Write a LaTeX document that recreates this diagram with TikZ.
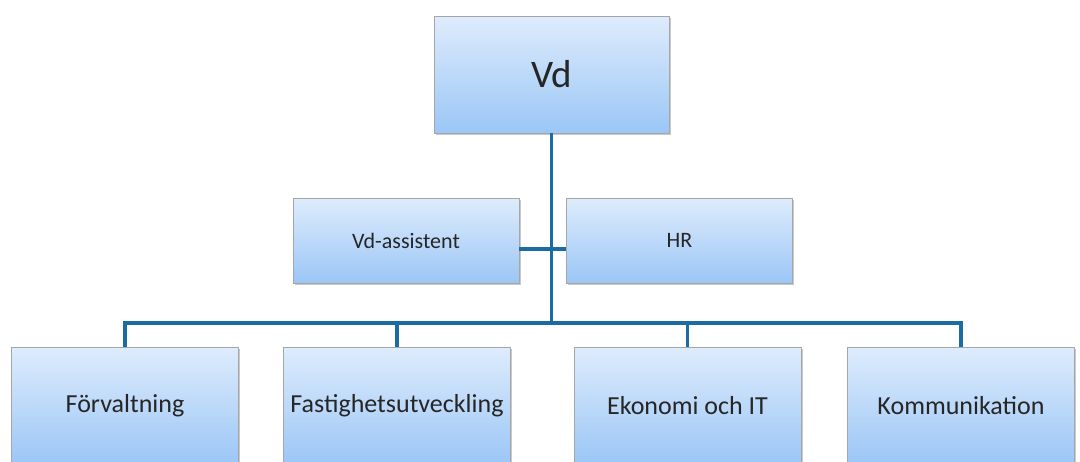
\documentclass[tikz,border=0pt]{standalone}
\usepackage{fontspec}
\setmainfont{Carlito}
\usetikzlibrary{shadows}
\definecolor{linkblue}{HTML}{1A6CA3}
\definecolor{boxtop}{HTML}{DEECFC}
\definecolor{boxbot}{HTML}{9BC6F6}
\definecolor{boxborder}{HTML}{A6A6A6}
\definecolor{txt}{HTML}{262626}
\tikzset{
  orgbox/.style={draw=boxborder, line width=0.8pt, top color=boxtop, bottom color=boxbot,
    text=txt, inner sep=0pt,
    drop shadow={shadow xshift=1.5pt, shadow yshift=-1.5pt, opacity=0.35, fill=black!60}},
  topbox/.style={orgbox, minimum width=235pt, minimum height=117pt, font=\fontsize{39}{45}\selectfont},
  midbox/.style={orgbox, minimum width=226pt, minimum height=85pt, font=\fontsize{22}{26}\selectfont},
  lowbox/.style={orgbox, minimum width=227pt, minimum height=117pt, font=\fontsize{26}{30}\selectfont},
  link/.style={draw=linkblue, line width=3.5pt},
}
\begin{document}
\begin{tikzpicture}[x=1pt,y=-1pt]
\useasboundingbox (0,0) rectangle (1080,461);
\clip (0,0) rectangle (1080,461);
\fill[white] (0,0) rectangle (1080,461);
\coordinate (midy) at (0,249);
\coordinate (busy) at (0,323);
% nodes
\node[topbox] (vd) at (551.5,74.5) {Vd};
\node[midbox] (ass) at (406,240.5) {Vd-assistent};
\node[midbox] (hr) at (679.5,240.5) {HR};
\node[lowbox] (f1) at (125,405.5) {Förvaltning};
\node[lowbox] (f2) at (397,405.5) {Fastighetsutveckling};
\node[lowbox] (f3) at (687.5,405.5) {Ekonomi och IT};
\node[lowbox] (f4) at (961,405.5) {Kommunikation};
% connectors
\draw[link] (vd.south) -- (vd.south |- busy);
\draw[link] (ass.east |- midy) -- (hr.west |- midy);
\draw[link] (f1.north) -- (f1.north |- busy) -- (f4.north |- busy) -- (f4.north);
\draw[link] (f2.north) -- (f2.north |- busy);
\draw[link] (f3.north) -- (f3.north |- busy);
\end{tikzpicture}
\end{document}
